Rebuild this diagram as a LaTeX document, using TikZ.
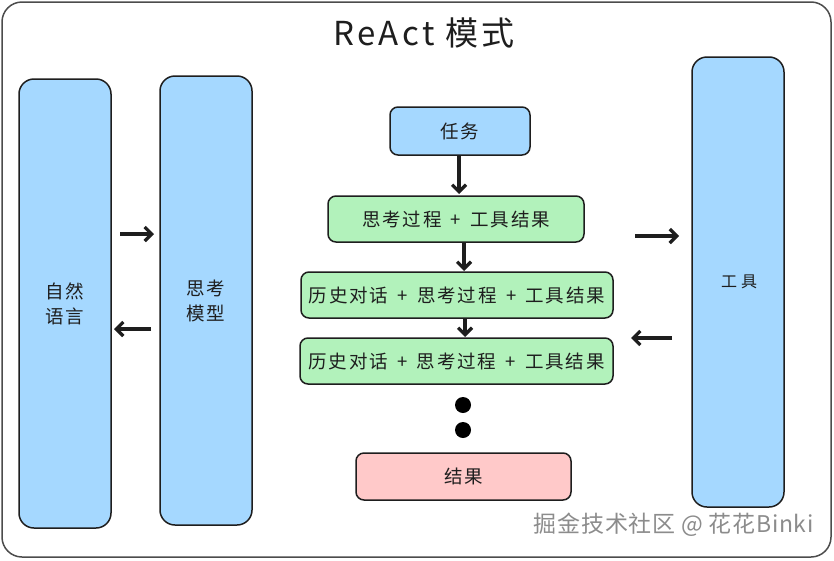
\documentclass[tikz,border=0pt]{standalone}
\usepackage{fontspec}
\setmainfont{Noto Sans CJK SC}
\usetikzlibrary{arrows.meta}
\definecolor{stroke}{HTML}{1E1E1E}
\definecolor{bluef}{HTML}{A5D8FF}
\definecolor{greenf}{HTML}{B2F2BB}
\definecolor{redf}{HTML}{FFC9C9}
\newfontfamily\spaced[LetterSpace=10]{Noto Sans CJK SC}
\newfontfamily\wide[LetterSpace=25]{Noto Sans CJK SC}
\newcommand\plusgap{\hspace{0.5em}+\hspace{0.5em}}
\tikzset{
  tall/.style={draw=stroke, line width=1.5pt, rounded corners=15pt, fill=bluef, inner sep=0pt},
  small/.style={draw=stroke, line width=1.5pt, rounded corners=8pt, inner sep=0pt},
  lbl/.style={font=\spaced\fontsize{18.5}{25}\selectfont, text=stroke, align=center},
  arr/.style={draw=stroke, line width=3.2pt, -{Straight Barb[length=7pt,width=14pt]}},
}
\begin{document}
\begin{tikzpicture}[x=1pt,y=-1pt]
\useasboundingbox (0,0) rectangle (834,560);
\fill[white] (0,0) rectangle (834,560);
% outer frame
\draw[draw=black!70, line width=1.5pt, rounded corners=20pt] (2,2) rectangle (831,557);
% title
\node[font=\spaced\fontsize{33}{38}\selectfont, text=stroke] (title) at (424,33) {ReAct 模式};
% tall boxes
\node[tall, minimum width=92pt, minimum height=449pt] (nl) at (65,303.5) {};
\node[lbl] at (nl.center) {自然\\语言};
\node[tall, minimum width=92pt, minimum height=449pt] (tm) at (206,300.5) {};
\node[lbl] at (tm.center) {思考\\模型};
\node[tall, minimum width=92pt, minimum height=450pt] (tool) at (738,282) {};
\node[lbl, font=\wide\fontsize{16}{20}\selectfont] at (739,282) {工具};
% center column
\node[small, fill=bluef, minimum width=140pt, minimum height=48pt] (task) at (460,131) {};
\node[lbl] at (task.center) {任务};
\node[small, fill=greenf, minimum width=256pt, minimum height=46pt] (s1) at (456,219) {};
\node[lbl] at (s1.center) {思考过程\plusgap 工具结果};
\node[small, fill=greenf, minimum width=312pt, minimum height=46pt] (s2) at (457,295) {};
\node[lbl] at (s2.center) {历史对话\plusgap 思考过程\plusgap 工具结果};
\node[small, fill=greenf, minimum width=313pt, minimum height=46pt] (s3) at (456.5,361) {};
\node[lbl] at (s3.center) {历史对话\plusgap 思考过程\plusgap 工具结果};
\fill[stroke] (463,405) circle (8pt);
\fill[stroke] (463,430) circle (8pt);
\node[small, fill=redf, minimum width=215pt, minimum height=47pt] (res) at (463.5,476.5) {};
\node[lbl] at (res.center) {结果};
% vertical arrows
\draw[arr] (task.south -| 459,0) -- (459,194);
\draw[arr] (464,242) -- (464,271);
\draw[arr] (465,318) -- (465,337);
% horizontal arrows
\coordinate (a1s) at (120,234); \coordinate (a1e) at (154,234);
\draw[arr] (a1s) -- (a1e);
\coordinate (a2s) at (151,329); \coordinate (a2e) at (114,329);
\draw[arr] (a2s) -- (a2e);
\coordinate (a3s) at (635,236); \coordinate (a3e) at (679,236);
\draw[arr] (a3s) -- (a3e);
\coordinate (a4s) at (672,338); \coordinate (a4e) at (631,338);
\draw[arr] (a4s) -- (a4e);
% watermark
\node[anchor=east, font=\fontsize{23}{26}\selectfont\addfontfeatures{LetterSpace=3}, text=black!45] (wm) at (817,525) {掘金技术社区 @ 花花Binki};
\end{tikzpicture}
\end{document}
